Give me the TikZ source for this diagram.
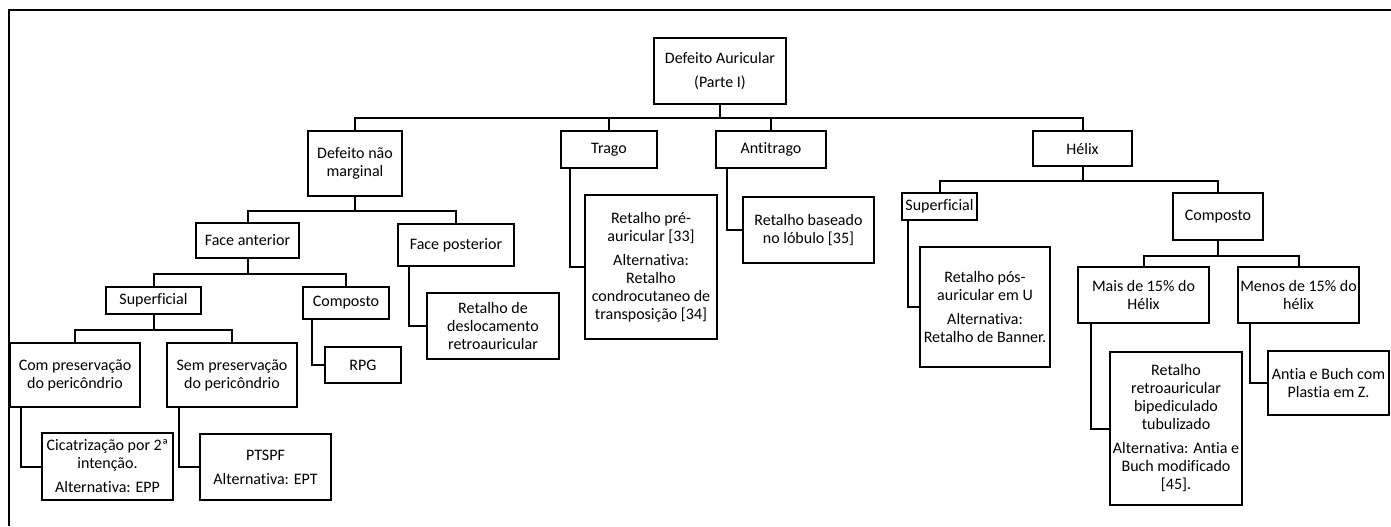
\documentclass[tikz,border=0pt]{standalone}
\usepackage{fontspec}
\setmainfont{Carlito}[Ligatures=NoCommon]
\usetikzlibrary{positioning,calc}

\begin{document}
\begin{tikzpicture}[
        x=0.5pt, y=-0.5pt,
        font=\fontsize{8}{9}\selectfont,
        block/.style={draw, line width=1pt, align=center, inner sep=0pt},
        boxsize/.style 2 args={minimum width=#1*0.5pt, minimum height=#2*0.5pt},
        line/.style={line width=1pt},
        frame/.style={line width=0.6pt}
    ]
        \useasboundingbox (0,0) rectangle (1391,526);
        \draw[frame] (9,526) -- (9,10) -- (1391,10);

        % topo
        \node[block, boxsize={132}{66}] (auric) at (720,71) {Defeito Auricular\\[3pt](Parte I)};
        \node[block, boxsize={94}{65}] (naomarg) at (355,163.5) {Defeito não\\marginal};
        \node[block, boxsize={96}{37}] (trago) at (609,149.5) {Trago};
        \node[block, boxsize={110}{37}] (antitrago) at (771,149.5) {Antitrago};
        \node[block, boxsize={99}{35}] (helix) at (1082.5,148.5) {Hélix};

        % defeito nao marginal
        \node[block, boxsize={103}{35}] (faceant) at (247.5,240.5) {Face anterior};
        \node[block, boxsize={116}{42}] (facepost) at (456,245) {Face posterior};
        \node[block, boxsize={95}{27}] (superf) at (153.5,300.5) {Superficial};
        \node[block, boxsize={86}{32}] (compos) at (346,303) {Composto};
        \node[block, boxsize={130}{64}] (compres) at (75,375) {Com preservação\\do pericôndrio};
        \node[block, boxsize={130}{64}] (sempres) at (232,375) {Sem preservação\\do pericôndrio};
        \node[block, boxsize={76}{36}] (rpg) at (363,365) {RPG};
        \node[block, boxsize={131}{67}] (cicatr) at (107.5,466.5) {Cicatrização por 2ª\\intenção.\\[3pt]Alternativa: EPP};
        \node[block, boxsize={131}{66}] (ptspf) at (265.5,467) {PTSPF\\[3pt]Alternativa: EPT};
        \node[block, boxsize={132}{66}] (retdesl) at (493,326) {Retalho de\\deslocamento\\retroauricular};

        % trago e antitrago
        \node[block, boxsize={132}{144}] (retpre) at (651,267) {Retalho pré-\\auricular [33]\\[3pt]Alternativa:\\Retalho\\condrocutaneo de\\transposição [34]};
        \node[block, boxsize={131}{66}] (retlob) at (808.5,230) {Retalho baseado\\no lóbulo [35]};

        % helix
        \node[block, boxsize={75}{27}] (superfH) at (939.5,206.5) {Superficial};
        \node[block, boxsize={90}{47}] (composH) at (1218,216.5) {Composto};
        \node[block, boxsize={130}{120}] (retpos) at (985,307) {Retalho pós-\\auricular em U\\[3pt]Alternativa:\\Retalho de Banner.};
        \node[block, boxsize={131}{56}] (mais) at (1143.5,295) {Mais de 15\% do\\Hélix};
        \node[block, boxsize={121}{56}] (menos) at (1298.5,295) {Menos de 15\% do\\hélix};
        \node[block, boxsize={132}{153}] (retbip) at (1176,428.5) {Retalho\\retroauricular\\bipediculado\\tubulizado\\[3pt]Alternativa: Antia e\\Buch modificado\\{}[45].};
        \node[block, boxsize={121}{64}] (antia) at (1328.5,383) {Antia e Buch com\\Plastia em Z.};

        % ligacoes em arvore
        \draw[line] (auric.south) -- ++(0,13) -| (naomarg.north);
        \draw[line] (auric.south) -- ++(0,13) -| (trago.north);
        \draw[line] (auric.south) -- ++(0,13) -| (antitrago.north);
        \draw[line] (auric.south) -- ++(0,13) -| (helix.north);
        \draw[line] (naomarg.south) -- ++(0,14) -| (faceant.north);
        \draw[line] (naomarg.south) -- ++(0,14) -| (facepost.north);
        \draw[line] (faceant.south) -- ++(0,15) -| (superf.north);
        \draw[line] (faceant.south) -- ++(0,15) -| (compos.north);
        \draw[line] (superf.south) -- ++(0,15) -| (compres.north);
        \draw[line] (superf.south) -- ++(0,15) -| (sempres.north);
        \draw[line] (helix.south) -- ++(0,14) -| (superfH.north);
        \draw[line] (helix.south) -- ++(0,14) -| (composH.north);
        \draw[line] (composH.south) -- ++(0,15) -| (mais.north);
        \draw[line] (composH.south) -- ++(0,15) -| (menos.north);

        % ligacoes laterais
        \draw[line] ($(trago.south west)+(10,0)$) |- (retpre.west);
        \draw[line] ($(antitrago.south west)+(12,0)$) |- (retlob.west);
        \draw[line] ($(facepost.south west)+(12,0)$) |- (retdesl.west);
        \draw[line] ($(compos.south west)+(10,0)$) |- (rpg.west);
        \draw[line] ($(compres.south west)+(12,0)$) |- (cicatr.west);
        \draw[line] ($(sempres.south west)+(13,0)$) |- (ptspf.west);
        \draw[line] ($(superfH.south west)+(7,0)$) |- (retpos.west);
        \draw[line] ($(mais.south west)+(14,0)$) |- (retbip.west);
        \draw[line] ($(menos.south west)+(13,0)$) |- (antia.west);
    \end{tikzpicture}
\end{document}
